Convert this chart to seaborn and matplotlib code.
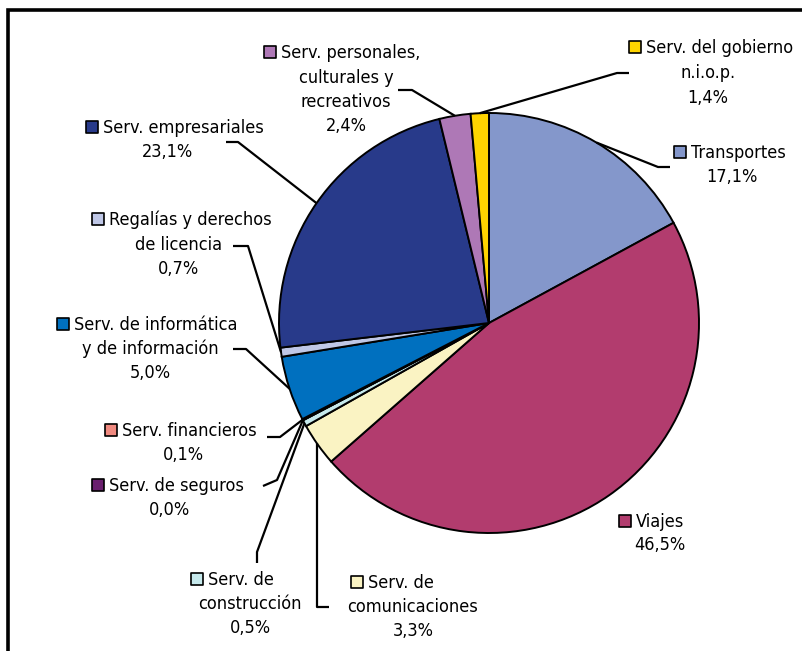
import numpy as np
import matplotlib
matplotlib.use("Agg")
import matplotlib.pyplot as plt
from matplotlib import font_manager
import seaborn as sns

# data
categories = ["Transportes", "Viajes", "Serv. de comunicaciones", "Serv. de construcción",
              "Serv. de seguros", "Serv. financieros", "Serv. de informática y de información",
              "Regalías y derechos de licencia", "Serv. empresariales",
              "Serv. personales, culturales y recreativos", "Serv. del gobierno n.i.o.p."]
shares = [17.1, 46.5, 3.3, 0.5, 0.0, 0.1, 5.0, 0.7, 23.1, 2.4, 1.4]
label_lines = [
    ["Transportes"],
    ["Viajes"],
    ["Serv. de", "comunicaciones"],
    ["Serv. de", "construcción"],
    ["Serv. de seguros"],
    ["Serv. financieros"],
    ["Serv. de informática", "y de información"],
    ["Regalías y derechos", "de licencia"],
    ["Serv. empresariales"],
    ["Serv. personales,", "culturales y", "recreativos"],
    ["Serv. del gobierno", "n.i.o.p."],
]
colors = ["#8497CB", "#B23C6E", "#FAF3C3", "#C6E9EC", "#6A1F6E", "#F08A80",
          "#0070BF", "#BFC7E6", "#283A8A", "#AE78B6", "#FFD400"]

sns.set_theme(style="white")
plt.rcParams["font.family"] = ["Liberation Sans", "DejaVu Sans"]

# look for a narrow / condensed face, like Arial Narrow in the original
fp = None
for want in ["Liberation Sans Narrow", "Arial Narrow"]:
    for f in font_manager.fontManager.ttflist:
        if f.name == want and f.style == "normal" and f.weight in (400, "normal"):
            fp = font_manager.FontProperties(fname=f.fname, size=15)
            break
    if fp is not None:
        break
if fp is None:
    for f in font_manager.fontManager.ttflist:
        if ("Condensed" in f.fname or f.stretch in ("condensed", "semi-condensed")) \
                and f.style == "normal" and f.weight in (400, "normal") and "Sans" in f.name:
            fp = font_manager.FontProperties(fname=f.fname, size=13)
            break
if fp is None:
    fp = font_manager.FontProperties(family=["Liberation Sans", "DejaVu Sans"], size=12.5)

W, H = 803, 651
fig = plt.figure(figsize=(W / 100, H / 100), dpi=100)
ax = fig.add_axes([0, 0, 1, 1])

def fy(y):
    return H - y

# pie: centre and radius in image pixels
cx, cy, R = 489, 323, 210
wedges, _ = ax.pie(shares, colors=colors, startangle=90, counterclock=False,
                   center=(cx, fy(cy)), radius=R, frame=True,
                   wedgeprops=dict(edgecolor="black", linewidth=1.4))
ax.set_xlim(0, W)
ax.set_ylim(0, H)
ax.axis("off")

# label layout: marker x, line y's, centre x for later lines, leader elbow points
layout = [
    dict(mx=675, ys=[153, 177], lx=732, path=[(658, 167), (670, 167)]),
    dict(mx=620, ys=[522, 545], lx=660, path=None),
    dict(mx=352, ys=[583, 607, 631], lx=413, path=[(317, 607), (329, 607)], vert=True),
    dict(mx=192, ys=[580, 604, 628], lx=250, path=[(257, 552), (257, 563)]),
    dict(mx=93, ys=[486, 510], lx=170, path=[(277, 480), (263, 486)]),
    dict(mx=106, ys=[431, 455], lx=183, path=[(280, 437), (267, 437)]),
    dict(mx=58, ys=[325, 349, 373], lx=150, path=[(246, 349), (233, 349)]),
    dict(mx=93, ys=[220, 245, 269], lx=179, path=[(248, 246), (233, 246)]),
    dict(mx=87, ys=[128, 152], lx=168, path=[(238, 142), (226, 142)]),
    dict(mx=265, ys=[53, 78, 102, 126], lx=346, path=[(412, 90), (398, 90)]),
    dict(mx=630, ys=[48, 73, 98], lx=708, path=[(617, 73), (629, 73)]),
]

for w, lines, share, lay, col in zip(wedges, label_lines, shares, layout, colors):
    text_lines = lines + [f"{share:.1f}".replace(".", ",") + "%"]
    ys = lay["ys"]
    # marker square
    ax.scatter([lay["mx"] + 5], [fy(ys[0]) + 1], marker="s", s=75, color=col,
               edgecolor="black", linewidth=1.2, zorder=5)
    ax.text(lay["mx"] + 16, fy(ys[0]), text_lines[0], ha="left", va="center",
            fontproperties=fp, color="black")
    for t, y in zip(text_lines[1:], ys[1:]):
        ax.text(lay["lx"], fy(y), t, ha="center", va="center", fontproperties=fp, color="black")
    if lay["path"] is None:
        continue
    ang = np.deg2rad((w.theta1 + w.theta2) / 2)
    px, py = cx + R * np.cos(ang), fy(cy) + R * np.sin(ang)
    if lay.get("vert"):
        ex = lay["path"][0][0]
        dy = np.sqrt(max(R ** 2 - (ex - cx) ** 2, 0))
        px, py = ex, fy(cy) - dy
    pts = [(px, py)] + [(x, fy(y)) for x, y in lay["path"]]
    xs, ys2 = zip(*pts)
    ax.plot(xs, ys2, color="black", linewidth=1.6, solid_capstyle="butt")

# outer frame
ax.plot([8, 8, W + 5], [-5, fy(9.5), fy(9.5)], color="black", linewidth=2.6,
        solid_joinstyle="miter")

fig.savefig("out.png", dpi=100, facecolor="white")
